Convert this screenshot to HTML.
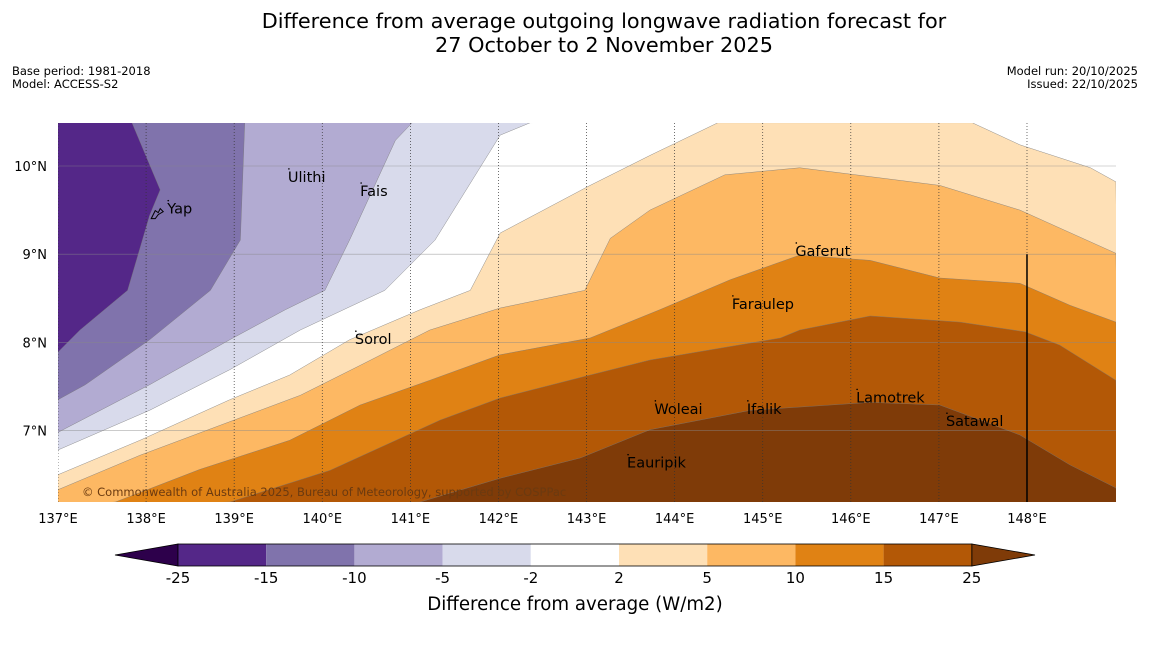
<!DOCTYPE html>
<html><head><meta charset="utf-8"><style>
body{margin:0;background:#fff;width:1150px;height:644px;overflow:hidden;font-family:"Liberation Sans","DejaVu Sans",sans-serif}
svg text{font-family:"DejaVu Sans","Liberation Sans",sans-serif}
</style></head><body>
<svg id="chart" width="1150" height="644" viewBox="0 0 1150 644" xmlns="http://www.w3.org/2000/svg">
<text x="604" y="28" font-size="20.8" text-anchor="middle">Difference from average outgoing longwave radiation forecast for</text>
<text x="604" y="52" font-size="20.8" text-anchor="middle">27 October to 2 November 2025</text>
<text x="12" y="75" font-size="11.5">Base period: 1981-2018</text>
<text x="12" y="88" font-size="11.5">Model: ACCESS-S2</text>
<text x="1138" y="75" font-size="11.5" text-anchor="end">Model run: 20/10/2025</text>
<text x="1138" y="88" font-size="11.5" text-anchor="end">Issued: 22/10/2025</text>
<defs><clipPath id="mapclip"><rect x="58" y="123" width="1058" height="379"/></clipPath></defs>
<g id="map" clip-path="url(#mapclip)"></g>
<g id="axes"></g>
<g id="cbar"></g>
<text x="575" y="610" font-size="18.2" text-anchor="middle">Difference from average (W/m2)</text>
</svg>
<script>
const lonTicks=[137,138,139,140,141,142,143,144,145,146,147,148];
const latTicks=[7,8,9,10];
const levels=[-25,-15,-10,-5,-2,2,5,10,15,25];
const bandColors=["#542788","#8073ac","#b2abd2","#d8daeb","#ffffff","#fee0b6","#fdb863","#e08214","#b35806"];
const underColor="#2d004b", overColor="#7f3b08";
const c15Lon=[137.84,138.16,138.04,137.79,137.25,137.0];
const c15Lat=[10.49,9.73,9.44,8.59,8.14,7.89];
const c10Lon=[139.12,139.07,138.73,138.04,137.31,137];
const c10Lat=[10.49,9.16,8.59,8.03,7.52,7.35];
const c5nLon=[141.02,140.83,140.31,140.03,139.58,138.95,138.04,137];
const c5nLat=[10.49,10.29,9.16,8.59,8.37,8.03,7.52,6.98];
const c2nLon=[142.36,142.02,141.28,140.71,139.75,138.95,138.04,137];
const c2nLat=[10.49,10.35,9.16,8.59,8.14,7.69,7.23,6.78];
const c2Lon=[137,137.93,138.95,139.63,140.31,141.11,141.68,142.02,143.04,143.72,144.49,147.38,147.92,148.72,149.01];
const c2Lat=[6.50,6.89,7.35,7.63,8.03,8.37,8.59,9.24,9.78,10.12,10.49,10.49,10.24,9.98,9.82];
const c5Lon=[137,137.93,138.84,139.75,140.43,141.22,142.02,142.98,143.27,143.72,144.57,145.42,147.01,147.92,149.01];
const c5Lat=[6.33,6.72,7.06,7.40,7.74,8.14,8.39,8.59,9.18,9.50,9.90,9.98,9.78,9.50,9.01];
const c10pLon=[137.65,138.61,139.63,140.43,141.22,142.02,143.04,143.83,144.63,145.42,146.22,147.01,147.92,148.49,149.01];
const c10pLat=[6.19,6.56,6.89,7.29,7.57,7.86,8.05,8.37,8.71,8.99,8.93,8.73,8.67,8.42,8.23];
const c15pLon=[138.95,140.09,141.34,142.02,143.04,143.72,145.20,145.42,146.22,147.24,147.98,148.37,149.01];
const c15pLat=[6.19,6.55,7.12,7.37,7.63,7.80,8.05,8.14,8.30,8.23,8.12,7.97,7.57];
const c25Lon=[141.11,142.02,142.93,143.72,144.86,146.22,147.01,147.47,147.92,148.49,149.01];
const c25Lat=[6.19,6.46,6.69,7.01,7.23,7.32,7.29,7.12,6.95,6.61,6.35];
const islandNames=["Ulithi","Fais","Yap","Gaferut","Faraulep","Sorol","Lamotrek","Woleai","Ifalik","Satawal","Eauripik"];
const islandLon=[139.61,140.43,138.24,145.37,144.65,140.37,146.06,143.77,144.82,147.08,143.46];
const islandLat=[9.82,9.66,9.46,8.98,8.38,7.98,7.32,7.19,7.19,7.05,6.58];

const NS="http://www.w3.org/2000/svg";
const X=lon=>58+(lon-137)*88.09;
const Y=lat=>166+(10-lat)*88.2;
function mk(tag,attrs,parent){const e=document.createElementNS(NS,tag);for(const k in attrs)e.setAttribute(k,attrs[k]);parent.appendChild(e);return e;}
const map=document.getElementById('map'), axes=document.getElementById('axes'), cbar=document.getElementById('cbar');

let bg=mk('rect',{x:58,y:123,width:1058,height:379,fill:bandColors[0]},map);


const bounds=[[c15Lon,c15Lat],[c10Lon,c10Lat],[c5nLon,c5nLat],[c2nLon,c2nLat],[c2Lon,c2Lat],[c5Lon,c5Lat],[c10pLon,c10pLat],[c15pLon,c15pLat],[c25Lon,c25Lat]];
const fills=[bandColors[1],bandColors[2],bandColors[3],bandColors[4],bandColors[5],bandColors[6],bandColors[7],bandColors[8],overColor];
bounds.forEach((b,i)=>{
  let pts=b[0].map((lo,j)=>[X(lo),Y(b[1][j])]);
  let poly;
  if(i<4){poly=pts.concat([[X(137)-5,Y(6.19)+5],[X(149)+5,Y(6.19)+5],[X(149)+5,Y(10.49)-5]]);}
  else{poly=pts.concat([[X(149)+5,Y(6.19)+5],[X(137)-5,Y(6.19)+5]]);}
  const p=mk('polygon',{points:poly.map(q=>q.join(',')).join(' '),fill:fills[i],stroke:'#777',"stroke-width":0.4},map);
  
  
});
latTicks.forEach(l=>{const g=mk('line',{x1:58,x2:1116,y1:Y(l),y2:Y(l),stroke:'#888',"stroke-width":0.6,opacity:0.7},map);


const t=mk('text',{x:47,y:Y(l)+5,"font-size":13,"text-anchor":"end"},axes);t.textContent=l+"°N";

});
lonTicks.forEach(l=>{const g=mk('line',{x1:X(l),x2:X(l),y1:123,y2:502,stroke:'#333',"stroke-width":0.7,"stroke-dasharray":"1,2"},map);


const t=mk('text',{x:X(l),y:523,"font-size":13,"text-anchor":"middle"},axes);t.textContent=l+"°E";

});
let bl=mk('line',{x1:X(148),x2:X(148),y1:Y(9),y2:502,stroke:'#000',"stroke-width":1.5},map);


let cp=mk('text',{x:82,y:496,"font-size":11.5,fill:'#6b3a10'},map);cp.textContent="© Commonwealth of Australia 2025, Bureau of Meteorology, supported by COSPPac";


let yap=mk('path',{d:`M${X(138.24)-16},${Y(9.46)+5} l4,-8 l3,2 l2,-4 l3,3 l-5,3 l-3,4 z`,fill:'none',stroke:'#000',"stroke-width":1},map);


islandNames.forEach((n,i)=>{const t=mk('text',{x:X(islandLon[i]),y:Y(islandLat[i]),"font-size":14.5},map);t.textContent=n;


const d=mk('circle',{cx:X(islandLon[i])+1,cy:Y(islandLat[i])-13,r:0.8,fill:'#000'},map);

});
const cx0=178,cw=88.2,cy=544,ch=22;
mk('polygon',{points:`${cx0},${cy} ${cx0},${cy+ch} 115,${cy+ch/2}`,fill:underColor,stroke:'#000',"stroke-width":0.8},cbar);
const ce=cx0+cw*bandColors.length;
mk('polygon',{points:`${ce},${cy} ${ce},${cy+ch} 1035,${cy+ch/2}`,fill:overColor,stroke:'#000',"stroke-width":0.8},cbar);
bandColors.forEach((c,i)=>{const r=mk('rect',{x:cx0+i*cw,y:cy,width:cw,height:ch,fill:c},cbar);

});
mk('rect',{x:cx0,y:cy,width:cw*bandColors.length,height:ch,fill:'none',stroke:'#000',"stroke-width":0.8},cbar);
levels.forEach((v,i)=>{const t=mk('text',{x:cx0+i*cw,y:583,"font-size":15,"text-anchor":"middle"},cbar);t.textContent=v;

});
</script>
</body></html>
